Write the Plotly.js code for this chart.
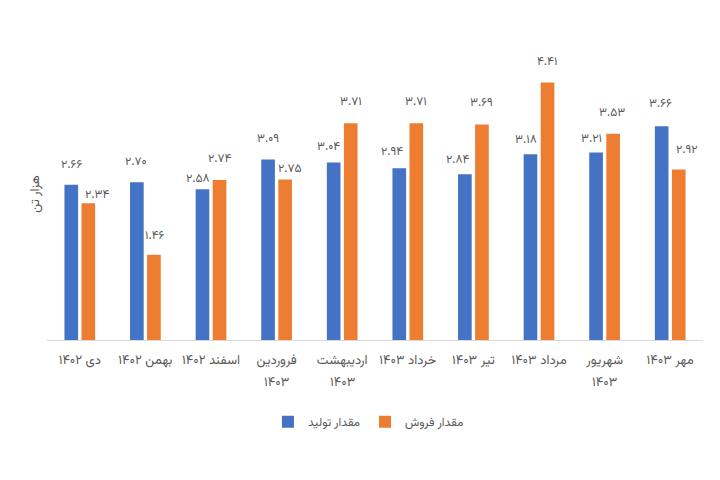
<!DOCTYPE html>
<html>
<head>
<meta charset="utf-8">
<script src="https://cdn.plot.ly/plotly-3.0.1.min.js"></script>
<style>html,body{margin:0;padding:0;background:#fff;}#chart{width:720px;height:480px;}</style>
</head>
<body>
<div id="chart"></div>
<script>
const categories = ["دی ۱۴۰۲", "بهمن ۱۴۰۲", "اسفند ۱۴۰۲", "فروردین<br>۱۴۰۳", "اردیبهشت<br>۱۴۰۳", "خرداد ۱۴۰۳", "تیر ۱۴۰۳", "مرداد ۱۴۰۳", "شهریور<br>۱۴۰۳", "مهر ۱۴۰۳"];
const production = [2.66, 2.70, 2.58, 3.09, 3.04, 2.94, 2.84, 3.18, 3.21, 3.66];
const sales = [2.34, 1.46, 2.74, 2.75, 3.71, 3.71, 3.69, 4.41, 3.53, 2.92];
const seriesNames = ["مقدار تولید", "مقدار فروش"];
const yTitle = "هزار تن";

// label nudges in pixels (horizontal, vertical) relative to each bar's top centre
const prodNudgeX = [0, -1, -5, 0, -5, -7, -7, -5, -5, -1];
const prodNudgeY = [20, 20, 10, 21, 15, 16, 14, 14, 14, 22];
const salesNudgeX = [9, 1, 0, 5, 0, 0, 0, -1, -1, 8];
const salesNudgeY = [8, 19, 21, 10, 21, 21, 22, 20, 21, 19];

const faDigits = "۰۱۲۳۴۵۶۷۸۹";
function toFa(v) { return v.toFixed(2).replace(/[0-9]/g, d => faDigits[+d]); }

const font = "Vazirmatn, 'DejaVu Sans', sans-serif";
const textColor = "#595959";

const traces = [
  { type: "bar", name: seriesNames[0], x: categories, y: production,
    marker: { color: "#4472C4" } },
  { type: "bar", name: seriesNames[1], x: categories, y: sales,
    marker: { color: "#ED7D31" } }
];

const annotations = [];
[[production, -8.5, prodNudgeX, prodNudgeY], [sales, 8.5, salesNudgeX, salesNudgeY]].forEach(([vals, dx, nx, ny]) => {
  vals.forEach((v, i) => annotations.push({
    x: categories[i], y: v, xref: "x", yref: "y", text: toFa(v), showarrow: false,
    xshift: dx + nx[i], yshift: ny[i], yanchor: "middle", xanchor: "center",
    font: { family: font, size: 12, color: textColor }
  }));
});
// second lines of wrapped category labels, with the reference's wider line spacing
categories.forEach(c => {
  const parts = c.split("<br>");
  if (parts.length > 1) annotations.push({
    x: c, y: 0, xref: "x", yref: "y", text: parts[1], showarrow: false,
    yshift: -43, yanchor: "middle", xanchor: "center",
    font: { family: font, size: 13, color: textColor }
  });
});

const layout = {
  width: 720, height: 480,
  margin: { l: 47, r: 17, t: 48, b: 140 },
  paper_bgcolor: "#fff", plot_bgcolor: "#fff",
  font: { family: font, color: textColor, size: 12 },
  barmode: "group", bargap: 0.48, bargroupgap: 0.2,
  showlegend: true,
  legend: { orientation: "h", x: 0.49, xanchor: "center", y: -0.28, yanchor: "middle",
            font: { family: font, size: 12, color: textColor } },
  annotations: annotations,
  xaxis: { showgrid: false, showline: true, linecolor: "#d9d9d9", linewidth: 1,
           tickmode: "array", tickvals: categories, ticktext: categories.map(c => c.split("<br>")[0]),
           ticks: "", ticklabelstandoff: 7, tickfont: { family: font, size: 13, color: textColor }, tickangle: 0 },
  yaxis: { range: [0, 5], showgrid: false, zeroline: false, showticklabels: false, ticks: "",
           title: { text: yTitle, font: { family: font, size: 13, color: textColor }, standoff: 3 } }
};

Plotly.newPlot("chart", traces, layout, { displayModeBar: false, staticPlot: true });
</script>
</body>
</html>
